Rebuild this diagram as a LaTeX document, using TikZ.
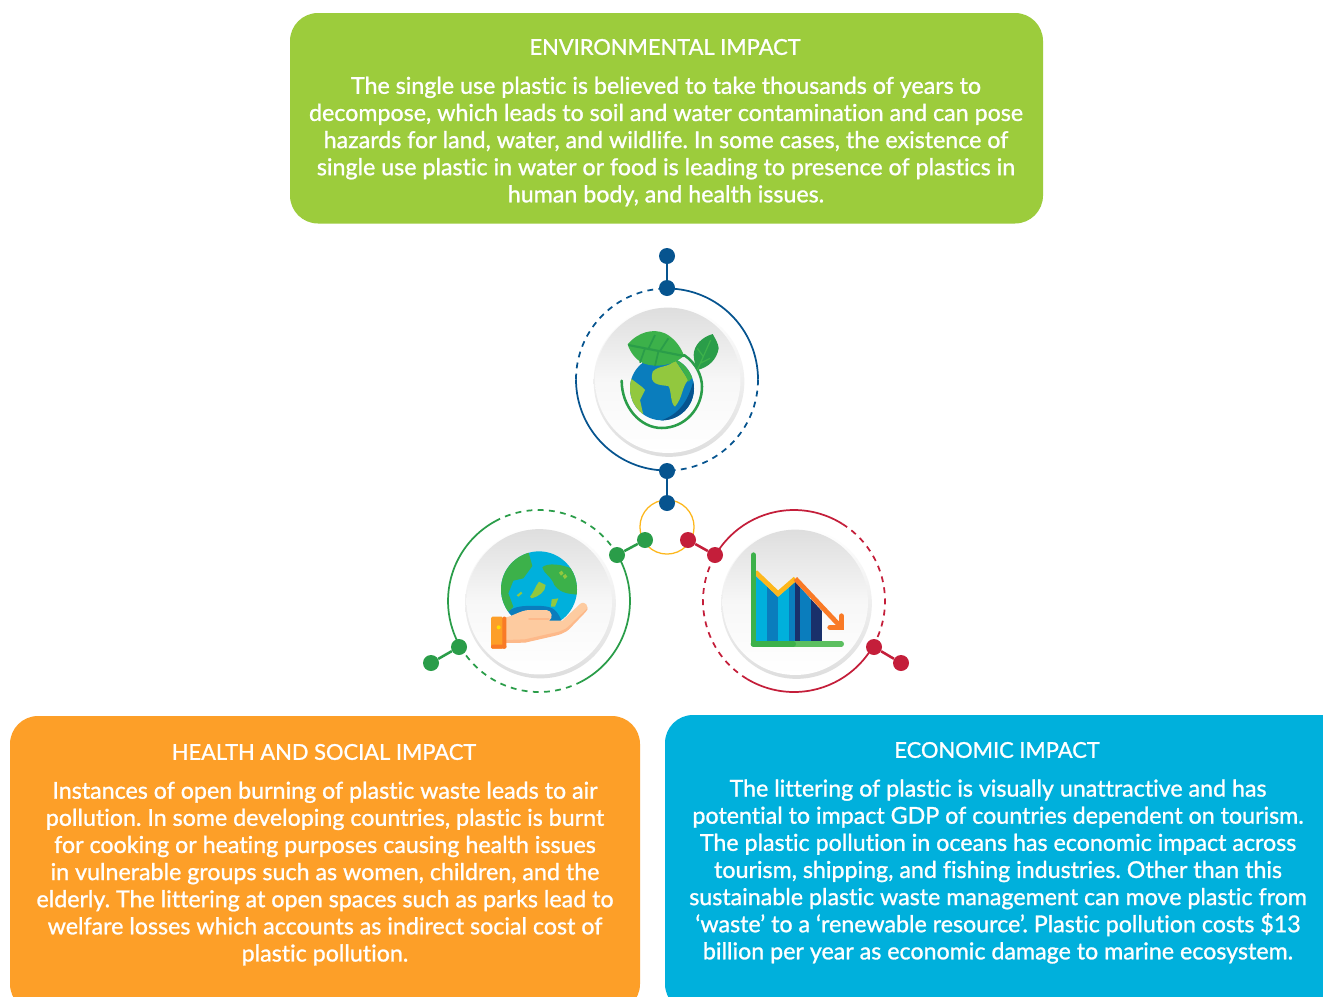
\documentclass[tikz,border=0pt]{standalone}
\usepackage{fontspec}
\setmainfont{Lato}[FakeBold=1.1,Ligatures=NoCommon]
\definecolor{cgreenbox}{HTML}{9CCC3C}
\definecolor{corangebox}{HTML}{FD9F28}
\definecolor{ccyanbox}{HTML}{00B0DC}
\definecolor{cblue}{HTML}{06548F}
\definecolor{cgreen}{HTML}{2A9D49}
\definecolor{cred}{HTML}{C41E3A}
\definecolor{cyellow}{HTML}{FDB71C}
\definecolor{gblue}{HTML}{0A7DBD}
\definecolor{gdark}{HTML}{06548F}
\definecolor{gnavy}{HTML}{19306B}
\definecolor{lgreen}{HTML}{3CB14A}
\definecolor{lgreenb}{HTML}{5CBF60}
\definecolor{llime}{HTML}{92C83E}
\definecolor{peach}{HTML}{FDCBA0}
\definecolor{peachd}{HTML}{FDB98A}
\definecolor{orangea}{HTML}{FD9F28}
\definecolor{oranged}{HTML}{F97A26}
\tikzset{
  panel/.style={rounded corners=21pt,draw=none},
  paneltext/.style={text=white,align=center,font=\fontsize{17.42}{20.35}\selectfont,inner sep=0pt},
  paneltitle/.style={text=white,align=center,font=\fontsize{16.4}{20}\selectfont,inner sep=0pt},
  dot/.style={circle,fill=#1,minimum size=12pt,inner sep=0pt,draw=none},
  link/.style={line width=1.9pt,draw=#1},
  ring/.style={line width=1.3pt,draw=#1},
  ringd/.style={line width=1.3pt,draw=#1,dash pattern=on 4.4pt off 4pt},
}
\newcommand{\discicon}[1]{%
  \shade[shading angle=45,top color=white,bottom color=black!13] (#1) circle (56.5pt);
  \shade[shading angle=45,top color=black!13,bottom color=white,middle color=black!3] (#1)+(-0.9pt,0.9pt) circle (54.5pt);
}
\begin{document}
\frenchspacing
\begin{tikzpicture}[x=0.75pt,y=-0.75pt]
\clip (0,0) rectangle (1323,996);
\fill[white] (0,0) rectangle (1323,996);
% panels
\fill[panel,cgreenbox] (290,13) rectangle (1043,223.5);
\fill[panel,corangebox] (10,716) rectangle (640,1012);
\fill[panel,ccyanbox] (665,715) rectangle (1400,1012);
\node[paneltitle] (t1) at (665,47) {ENVIRONMENTAL IMPACT};
\node[paneltext] (b1) at (666,141.5) {The single use plastic is believed to take thousands of years to\\decompose, which leads to soil and water contamination and can pose\\hazards for land, water, and wildlife. In some cases, the existence of\\single use plastic in water or food is leading to presence of plastics in\\human body, and health issues.};
\node[paneltitle] (t2) at (324,752) {HEALTH AND SOCIAL IMPACT};
\node[paneltext] (b2) at (325,873.5) {Instances of open burning of plastic waste leads to air\\pollution. In some developing countries, plastic is burnt\\for cooking or heating purposes causing health issues\\in vulnerable groups such as women, children, and the\\elderly. The littering at open spaces such as parks lead to\\welfare losses which accounts as indirect social cost of\\plastic pollution.};
\node[paneltitle] (t3) at (997,750) {ECONOMIC IMPACT};
\node[paneltext] (b3) at (998,871.5) {The littering of plastic is visually unattractive and has\\potential to impact GDP of countries dependent on tourism.\\The plastic pollution in oceans has economic impact across\\tourism, shipping, and fishing industries. Other than this\\sustainable plastic waste management can move plastic from\\‘waste’ to a ‘renewable resource’. Plastic pollution costs \$13\\billion per year as economic damage to marine ecosystem.};
% discs
\discicon{669,381.5}
\discicon{540.5,603}
\discicon{796.5,603.5}
% yellow ring
\draw[line width=0.95pt,draw=cyellow] (667,527) circle (20.3pt);
\coordinate (c1) at (667,379.5);
\coordinate (c2) at (539,601);
\coordinate (c3) at (794,601);
\draw[ring=cblue] (c1)+(90:68.25pt) arc[start angle=90,end angle=0,radius=68.25pt];
\draw[ringd=cblue] (c1)+(0:68.25pt) arc[start angle=0,end angle=-90,radius=68.25pt];
\draw[ring=cblue] (c1)+(-90:68.25pt) arc[start angle=-90,end angle=-180,radius=68.25pt];
\draw[ringd=cblue] (c1)+(180:68.25pt) arc[start angle=180,end angle=90,radius=68.25pt];
% left ring
\draw[ring=cgreen] (c2)+(30:68.25pt) arc[start angle=30,end angle=-62,radius=68.25pt];
\draw[ringd=cgreen] (c2)+(-62:68.25pt) arc[start angle=-62,end angle=-150,radius=68.25pt];
\draw[ring=cgreen] (c2)+(210:68.25pt) arc[start angle=210,end angle=119,radius=68.25pt];
\draw[ringd=cgreen] (c2)+(119:68.25pt) arc[start angle=119,end angle=30,radius=68.25pt];
% right ring
\draw[ring=cred] (c3)+(150:68.25pt) arc[start angle=150,end angle=58,radius=68.25pt];
\draw[ringd=cred] (c3)+(58:68.25pt) arc[start angle=58,end angle=-30,radius=68.25pt];
\draw[ring=cred] (c3)+(-30:68.25pt) arc[start angle=-30,end angle=-121,radius=68.25pt];
\draw[ringd=cred] (c3)+(-121:68.25pt) arc[start angle=-121,end angle=-210,radius=68.25pt];
% dots
\node[dot=cblue] (a1) at (667,256) {};
\node[dot=cblue] (a2) at (667,288) {};
\node[dot=cblue] (a3) at (667,471) {};
\node[dot=cblue] (a4) at (667,503) {};
\node[dot=cgreen] (g1) at (431,663) {};
\node[dot=cgreen] (g2) at (459,647) {};
\node[dot=cgreen] (g3) at (617,555) {};
\node[dot=cgreen] (g4) at (645,540) {};
\node[dot=cred] (r1) at (688,540) {};
\node[dot=cred] (r2) at (715,555) {};
\node[dot=cred] (r3) at (874,647) {};
\node[dot=cred] (r4) at (901,663) {};
\draw[link=cblue] (a1) -- (a2);
\draw[link=cblue] (a3) -- (a4);
\draw[link=cgreen] (g1) -- (g2);
\draw[link=cgreen] (g3) -- (g4);
\draw[link=cred] (r1) -- (r2);
\draw[link=cred] (r3) -- (r4);
% ---- icon 1: earth with leaves (drawn in zoom coordinates)
\begin{scope}[shift={(560,240)},scale=1/3]
  \begin{scope}
    \clip (306,445) circle[radius=72pt];
    \fill[gblue] (200,340) rectangle (410,550);
    \fill[gdark] (402,415) .. controls (385,490) and (350,530) .. (290,545) -- (410,550) -- cycle;
    \fill[llime] (205,410) -- (225,425) -- (245,440) -- (255,450) -- (240,480) -- (250,525) -- (200,530) -- cycle;
    \fill[llime] (278,395) .. controls (295,375) and (325,385) .. (345,360) -- (385,420) .. controls (365,440) and (370,470) .. (345,500) .. controls (330,490) and (335,450) .. (325,438) .. controls (300,435) and (265,435) .. (278,395) -- cycle;
    \fill[lgreen] (345,360) -- (375,350) -- (410,400) -- (385,425) .. controls (375,400) and (360,380) .. (345,360) -- cycle;
  \end{scope}
  \draw[line width=1.9pt,draw=cgreen,line cap=round] (185,422) .. controls (185,500) and (240,564) .. (305,564) .. controls (375,564) and (426,505) .. (426,440) .. controls (426,410) and (410,370) .. (372,345);
  % big leaf
  \fill[lgreen] (203,313) .. controls (235,275) and (280,265) .. (315,280) .. controls (345,295) and (365,325) .. (372,348) .. controls (340,375) and (290,385) .. (250,370) .. controls (225,358) and (210,335) .. (203,313) -- cycle;
  \draw[line width=1.6pt,draw=cgreen] (205,315) -- (372,348);
  \draw[line width=1.3pt,draw=cgreen] (265,327) -- (285,285) (300,333) -- (325,295) (255,325) -- (240,368) (295,335) -- (285,378);
  % small leaf
  \fill[cgreen] (458,282) .. controls (425,292) and (402,315) .. (401,345) .. controls (402,365) and (407,380) .. (412,390) .. controls (445,382) and (470,360) .. (476,325) .. controls (475,310) and (465,295) .. (458,282) -- cycle;
  \draw[line width=0.9pt,draw=lgreen] (412,390) -- (452,300) (430,350) -- (412,325) (420,370) -- (450,355);
\end{scope}
% ---- icon 2: hand holding earth
\begin{scope}[shift={(415,490)},scale=1/3]
  \begin{scope}
    \clip (372,298) circle[radius=85.5pt];
    \fill[ccyanbox] (250,180) rectangle (495,415);
    \fill[lgreen] (340,185) -- (352,228) -- (325,265) -- (295,272) -- (280,310) -- (295,350) -- (280,365) -- (250,340) -- (250,180) -- cycle;
    \fill[lgreen] (382,232) .. controls (395,218) and (440,222) .. (470,236) -- (495,290) -- (490,315) .. controls (470,310) and (440,315) .. (418,285) .. controls (410,260) and (385,250) .. (382,232) -- cycle;
    \fill[llime] (345,320) .. controls (355,310) and (360,290) .. (372,275) -- (392,285) .. controls (392,305) and (370,320) .. (350,325) -- cycle;
    \fill[llime] (305,316) -- (318,305) -- (322,310) -- (310,320) -- cycle;
    \fill[llime] (410,328) -- (430,325) -- (420,350) -- (408,350) -- cycle;
    \fill[llime] (432,248) -- (440,242) -- (446,250) -- (438,257) -- cycle;
    \fill[llime] (443,258) -- (451,252) -- (457,260) -- (449,267) -- cycle;
    \fill[gblue] (280,365) .. controls (300,345) and (340,347) .. (380,348) .. controls (415,350) and (425,360) .. (440,392) -- (280,400) -- cycle;
  \end{scope}
  \fill[peach] (272,382) .. controls (290,380) and (315,362) .. (340,360) -- (395,360) .. controls (412,362) and (415,385) .. (402,392) -- (442,392) -- (495,342) .. controls (510,330) and (525,350) .. (512,362) -- (465,412) .. controls (450,430) and (430,432) .. (400,440) -- (330,456) -- (272,458) -- cycle;
  \fill[peachd] (272,450) -- (330,448) -- (400,432) .. controls (430,425) and (445,425) .. (465,405) -- (512,360) .. controls (515,358) and (517,352) .. (516,350) .. controls (520,355) and (518,360) .. (512,366) -- (468,412) .. controls (450,432) and (430,435) .. (400,442) -- (330,458) -- (272,459) -- cycle;
  \draw[line width=1.2pt,draw=peachd,line cap=round] (342,387) -- (402,387);
  \fill[orangea,rounded corners=1pt] (228,380) rectangle (264,476);
  \fill[oranged,rounded corners=1pt] (262,380) rectangle (274,476);
  \fill[oranged,rounded corners=1pt] (228,464) rectangle (274,476);
  \fill[yellow!80!orange] (251,412) circle[radius=4.5pt];
\end{scope}
% ---- icon 3: chart
\begin{scope}[shift={(630,490)},scale=1/3]
  \begin{scope}
    \clip (378,258) -- (444,320) -- (495,275) -- (580,368) -- (576,453) -- (378,453) -- cycle;
    \fill[ccyanbox] (378,240) rectangle (411,453);
    \fill[gblue] (411,240) rectangle (444,453);
    \fill[ccyanbox] (444,240) rectangle (477,453);
    \fill[gblue] (477,240) rectangle (495,453);
    \fill[gnavy] (495,240) rectangle (510,453);
    \fill[gblue] (510,240) rectangle (543,453);
    \fill[gnavy] (543,240) rectangle (576,453);
  \end{scope}
  \draw[line width=3.6pt,draw=cyellow,line join=miter] (376,246) -- (444,311) -- (496,266);
  \draw[line width=3.6pt,draw=oranged] (496,266) -- (630,408);
  \draw[line width=4pt,draw=oranged,line cap=round,line join=miter] (634,378) -- (634,412) -- (600,412);
  \draw[line width=4pt,draw=lgreenb,line cap=round] (490,462) -- (634,462);
  \draw[line width=4pt,draw=lgreen,line cap=round] (370,462) -- (490,462);
  \draw[line width=4pt,draw=lgreen,line cap=round] (370,195) -- (370,462);
\end{scope}
\end{tikzpicture}
\end{document}
